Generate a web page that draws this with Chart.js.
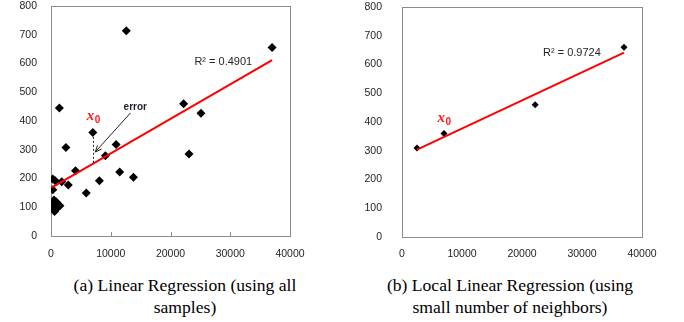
<!DOCTYPE html>
<html><head><meta charset="utf-8">
<script src="https://cdn.jsdelivr.net/npm/chart.js@4.4.1/dist/chart.umd.min.js"></script>
<style>
body{margin:0;background:#fff;width:684px;height:322px;overflow:hidden;position:relative}
.c{position:absolute;top:0;width:342px;height:262px}
.cap{position:absolute;top:274px;font-family:"Liberation Serif","Times New Roman",serif;font-size:17.6px;line-height:22px;text-align:center;color:#000;white-space:nowrap}
</style></head><body>
<div class="c" style="left:0"><canvas id="a" width="342" height="262"></canvas></div>
<div class="c" style="left:342px"><canvas id="b" width="342" height="262"></canvas></div>
<div class="cap" id="capA" style="left:35px;width:300px"></div>
<div class="cap" id="capB" style="left:360px;width:300px"></div>
<script>
// ---- data ----
const xTicks = [0, 10000, 20000, 30000, 40000];
const yTicks = [0, 100, 200, 300, 400, 500, 600, 700, 800];

const allX = [37000, 12600, 22200, 25100, 23100, 1400, 7000, 2500, 10900, 9100, 4100, 11500, 13800, 8100, 2900, 1800, 5900, 300, 700, 300,
              500, 900, 300, 700, 1200, 400, 800, 600, 1500, 200];
const allY = [656, 714, 460, 427, 285, 445, 360, 308, 318, 279, 227, 223, 204, 192, 177, 189, 150, 198, 192, 161,
              125, 118, 110, 105, 108, 95, 92, 85, 105, 100];

const localX = [2500, 7000, 22200, 37000];
const localY = [310, 360, 460, 660];

const trendAllX = [100, 37000];
const trendAllY = [168, 612];
const trendLocalX = [2500, 37000];
const trendLocalY = [304, 641];

const r2AllText = "R\u00B2 = 0.4901";
const r2LocalText = "R\u00B2 = 0.9724";
const errorText = "error";
const captionA = ["(a) Linear Regression (using all", "samples)"];
const captionB = ["(b) Local Linear Regression (using", "small number of neighbors)"];

document.getElementById('capA').innerHTML = captionA.join('<br>');
document.getElementById('capB').innerHTML = captionB.join('<br>');

const pts = (xs, ys) => xs.map((x, i) => ({x: x, y: ys[i]}));

const TICKFONT = {family: '"Liberation Sans", Arial, sans-serif', size: 10.5};
const TICKCOLOR = '#1e1e1e';

const framePlugin = {
  id: 'frame',
  beforeDatasetsDraw(chart, args, opts) {
    const {ctx, chartArea: a} = chart;
    ctx.save();
    ctx.strokeStyle = '#8c8c8c';
    ctx.lineWidth = 1;
    ctx.strokeRect(Math.round(a.left) + 0.5, Math.round(a.top) + 0.5, Math.round(a.right - a.left), Math.round(a.bottom - a.top));
    if (opts.innerTicks) {
      const xs = chart.scales.x;
      xs.ticks.forEach(t => {
        const px = Math.round(xs.getPixelForValue(t.value)) + 0.5;
        ctx.beginPath();
        ctx.moveTo(px, a.bottom);
        ctx.lineTo(px, a.bottom - 4);
        ctx.stroke();
      });
    }
    ctx.restore();
  },
  afterDatasetsDraw(chart, args, opts) {
    const {ctx} = chart;
    const xs = chart.scales.x, ys = chart.scales.y;
    const P = (x, y) => [xs.getPixelForValue(x), ys.getPixelForValue(y)];
    ctx.save();
    if (opts.r2) {
      const [px, py] = P(opts.r2.x, opts.r2.y);
      ctx.font = '11px "Liberation Sans", Arial, sans-serif';
      ctx.fillStyle = '#262626';
      ctx.textBaseline = 'middle';
      ctx.textAlign = 'left';
      ctx.fillText(opts.r2.text, px, py);
    }
    if (opts.x0) {
      const [px, py] = P(opts.x0.x, opts.x0.y);
      ctx.fillStyle = '#ff1a1a';
      ctx.textBaseline = 'alphabetic';
      ctx.textAlign = 'left';
      ctx.font = 'italic bold 15px "Liberation Serif", serif';
      ctx.fillText('x', px, py);
      const w = ctx.measureText('x').width;
      ctx.font = 'bold 10px "Liberation Sans", sans-serif';
      ctx.fillText('0', px + w + 0.5, py + 3);
    }
    if (opts.err) {
      const e = opts.err;
      const [tx, ty] = P(e.textX, e.textY);
      ctx.font = 'bold 10px "Liberation Sans", Arial, sans-serif';
      ctx.fillStyle = '#1f1f2f';
      ctx.textAlign = 'center';
      ctx.textBaseline = 'middle';
      ctx.fillText(e.text, tx, ty);
      const [ax, ay] = P(e.fromX, e.fromY);
      const [bx, by] = P(e.toX, e.toY);
      ctx.strokeStyle = '#222';
      ctx.lineWidth = 1;
      ctx.beginPath(); ctx.moveTo(ax, ay); ctx.lineTo(bx, by); ctx.stroke();
      const ang = Math.atan2(by - ay, bx - ax);
      const L = 7;
      ctx.beginPath();
      ctx.moveTo(bx - L * Math.cos(ang - 0.4), by - L * Math.sin(ang - 0.4));
      ctx.lineTo(bx, by);
      ctx.lineTo(bx - L * Math.cos(ang + 0.4), by - L * Math.sin(ang + 0.4));
      ctx.stroke();
      const [dx, d1] = P(e.dashX, e.dashTop);
      const [, d2] = P(e.dashX, e.dashBottom);
      ctx.setLineDash([2, 2]);
      ctx.beginPath();
      ctx.moveTo(Math.round(dx) + 0.5, d1);
      ctx.lineTo(Math.round(dx) + 0.5, d2);
      ctx.stroke();
      ctx.setLineDash([]);
    }
    ctx.restore();
  }
};

function zeroPad(s) { s.paddingTop = 0; s.paddingBottom = 0; s.paddingLeft = 0; s.paddingRight = 0; }

function makeChart(id, points, trend, radius, geom, annot) {
  return new Chart(document.getElementById(id), {
    type: 'scatter',
    data: {
      datasets: [
        {data: points, pointStyle: 'rectRot', pointRadius: radius, pointHoverRadius: radius,
         backgroundColor: '#000', borderColor: '#000', borderWidth: 0, order: 2},
        {type: 'line', data: trend, showLine: true, borderColor: '#ff0000', borderWidth: 2,
         pointRadius: 0, fill: false, tension: 0, order: 1}
      ]
    },
    options: {
      responsive: false, animation: false,
      layout: {padding: {top: geom.top, right: geom.right, left: 0, bottom: 0}},
      plugins: {legend: {display: false}, tooltip: {enabled: false}, frame: annot},
      scales: {
        x: {type: 'linear', min: xTicks[0], max: xTicks[xTicks.length - 1],
            afterBuildTicks: s => { s.ticks = xTicks.map(v => ({value: v})); },
            afterFit: s => { s.height = geom.xh; zeroPad(s); },
            grid: {display: false, drawTicks: false}, border: {display: false},
            ticks: {font: TICKFONT, color: TICKCOLOR, padding: geom.xpad, maxRotation: 0, autoSkip: false,
                    callback: v => String(v)}},
        y: {type: 'linear', min: yTicks[0], max: yTicks[yTicks.length - 1],
            afterBuildTicks: s => { s.ticks = yTicks.map(v => ({value: v})); },
            afterFit: s => { s.width = geom.yw; zeroPad(s); },
            grid: {display: false, drawTicks: false}, border: {display: false},
            ticks: {font: TICKFONT, color: TICKCOLOR, padding: geom.ypad, callback: v => String(v)}}
      }
    },
    plugins: [framePlugin]
  });
}

makeChart('a', pts(allX, allY), pts(trendAllX, trendAllY), 4.5,
  {top: 6, right: 52, xh: 26, yw: 51, xpad: 12, ypad: 14},
  {innerTicks: true,
   r2: {text: r2AllText, x: 24000, y: 605},
   x0: {x: 6000, y: 405},
   err: {text: errorText, textX: 14100, textY: 449, fromX: 13300, fromY: 428, toX: 7400, toY: 292,
         dashX: 7000, dashTop: 345, dashBottom: 251}});

makeChart('b', pts(localX, localY), pts(trendLocalX, trendLocalY), 3.5,
  {top: 7, right: 42, xh: 25, yw: 60, xpad: 11, ypad: 20},
  {innerTicks: false,
   r2: {text: r2LocalText, x: 23500, y: 640},
   x0: {x: 5900, y: 400}});
</script>
</body></html>
